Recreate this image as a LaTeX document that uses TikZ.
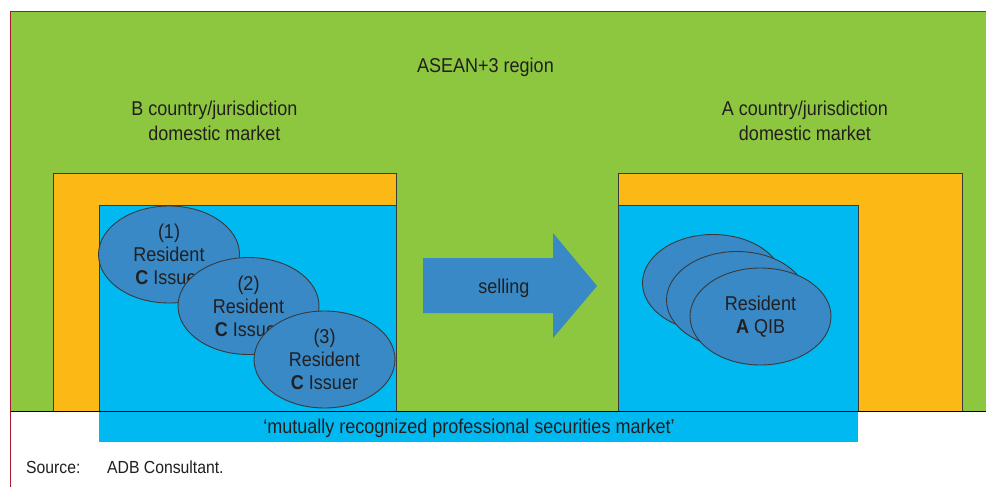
\documentclass[tikz,border=0pt]{standalone}
\usepackage{fontspec}
\setmainfont{Liberation Sans}[FakeStretch=0.9]
\usetikzlibrary{shapes.geometric}
\definecolor{regiongreen}{HTML}{8DC63F}
\definecolor{mktorange}{HTML}{FCB814}
\definecolor{problue}{HTML}{00B9F1}
\definecolor{ellblue}{HTML}{3889C6}
\definecolor{txtgray}{HTML}{231F20}
\definecolor{edgegray}{HTML}{3A3A3A}
\definecolor{borderred}{HTML}{A6192E}
\tikzset{
  lbl/.style={font=\fontsize{20}{25}\selectfont, text=txtgray, align=center, inner sep=0pt},
  ell/.style={ellipse, draw=edgegray, line width=0.9pt, fill=ellblue, minimum width=141pt, minimum height=97pt, inner sep=0pt, font=\fontsize{20}{23}\selectfont, text=txtgray, align=center},
  orangebox/.style={fill=mktorange, draw=edgegray, line width=0.9pt},
  bluebox/.style={fill=problue, draw=edgegray, line width=0.9pt},
}
\begin{document}
\begin{tikzpicture}[x=1pt,y=-1pt]
\useasboundingbox (0,0) rectangle (986,487);
\fill[white] (0,0) rectangle (986,487);
% region
\fill[regiongreen] (10,11) rectangle (986,411);
% B market
\draw[orangebox] (53,173) rectangle (396,411);
\draw[bluebox] (99,205) rectangle (396,411);
% A market
\draw[orangebox] (618,173) rectangle (962,411);
\draw[bluebox] (618,205) rectangle (858,411);
% bottom strip
\fill[problue] (99,411) rectangle (858,442);
\draw[black, line width=0.9pt] (10,411) -- (986,411);
\draw[borderred, line width=0.9pt] (10,487) -- (10,11) -- (986,11);
% labels
\node[lbl] (region) at (485.5,67) {ASEAN+3 region};
\node[lbl] (bmkt) at (214.5,121) {B country/jurisdiction\\domestic market};
\node[lbl] (amkt) at (805,121) {A country/jurisdiction\\domestic market};
% issuers
\node[ell] (iss1) at (169,254.5) {(1)\\Resident\\\textbf{C} Issuer};
\node[ell] (iss2) at (248.5,306) {(2)\\Resident\\\textbf{C} Issuer};
\node[ell] (iss3) at (324.5,359.5) {(3)\\Resident\\\textbf{C} Issuer};
% QIBs
\node[ell] (qib1) at (713,283) {};
\node[ell] (qib2) at (737,300) {};
\node[ell] (qib3) at (760.5,316.5) {Resident\\\textbf{A} QIB};
% arrow
\fill[ellblue] (423,258) -- (553,258) -- (553,233) -- (597,286) -- (553,338) -- (553,313) -- (423,313) -- cycle;
\node[lbl] (sell) at (504,288) {selling};
\node[lbl] (strip) at (469,428) {‘mutually recognized professional securities market’};
\node[font=\fontsize{17.5}{20}\selectfont, text=txtgray, anchor=west, inner sep=0pt] (src) at (26,467) {Source:};
\node[font=\fontsize{17.5}{20}\selectfont, text=txtgray, anchor=west, inner sep=0pt] (srcname) at (107,467) {ADB Consultant.};
\end{tikzpicture}
\end{document}
